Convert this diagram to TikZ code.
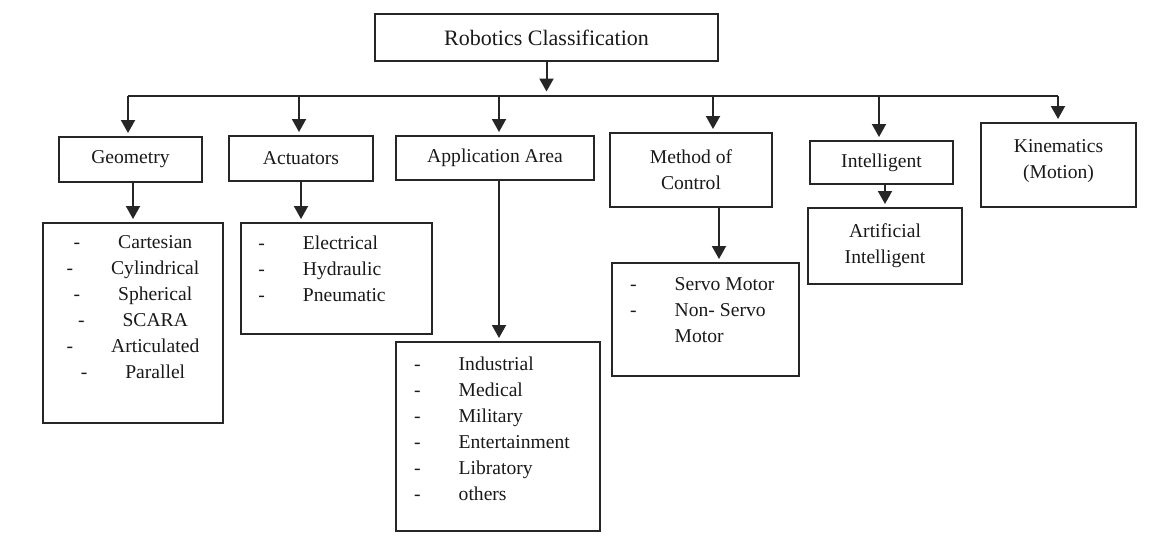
\documentclass[tikz,border=0pt]{standalone}
\usepackage{fontspec}
\setmainfont{Liberation Serif}
\usepackage{tikz}
\usetikzlibrary{arrows.meta}
\newcommand{\pxsize}{0.5pt}
\newcommand{\rcitem}[1]{-\hspace{19pt}#1}
\newcommand{\rcmore}[1]{\phantom{-}\hspace{19pt}#1}
\newcommand{\rcnode}[6]{\node[rcbox, minimum width=#4*\pxsize, minimum height=#5*\pxsize] (#1) at (#2,#3) {#6};}
\tikzset{
  rcbox/.style={draw=black!85, line width=1pt, inner sep=0pt, align=center, text=black!90, font=\fontsize{9.8}{13}\selectfont},
  rclist/.style={inner sep=0pt, text=black!90, font=\fontsize{9.8}{13}\selectfont},
  rcline/.style={draw=black!85, line width=1pt},
  rcarrow/.style={rcline, shorten >=1.5pt, -{Triangle[length=6.5pt,width=7pt]}}
}

\begin{document}
\begin{tikzpicture}[x=\pxsize, y=-\pxsize]

    \useasboundingbox (0,0) rectangle (1166,554);

    \rcnode{root}{546.5}{37.5}{343}{47}{\fontsize{11}{13}\selectfont Robotics Classification}

    \rcnode{geom}{130.5}{159.5}{143}{45}{Geometry}
    \rcnode{act}{301}{158.5}{144}{45}{Actuators}
    \rcnode{app}{495}{158}{198}{44}{Application Area}
    \rcnode{moc}{691}{170}{162}{74}{Method of\\Control}
    \rcnode{intel}{881.5}{162.5}{143}{43}{Intelligent}
    \rcnode{kin}{1058.5}{165}{155}{84}{}
    \node[rclist, align=center] (kin-text) at (1058.5,161.5) {Kinematics\\(Motion)};

    \rcnode{geomlist}{133}{323}{180}{200}{}
    \rcnode{actlist}{336.5}{278.5}{191}{111}{}
    \rcnode{applist}{498}{436.5}{204}{189}{}
    \rcnode{moclist}{705.5}{319.5}{187}{113}{}
    \rcnode{ai}{885}{246}{154}{76}{Artificial\\Intelligent}

    \node[rclist, align=center, anchor=north] (geomlist-text) at ([yshift=-6.5pt]geomlist.north)
        {\rcitem{Cartesian}\\\rcitem{Cylindrical}\\\rcitem{Spherical}\\\rcitem{SCARA}\\\rcitem{Articulated}\\\rcitem{Parallel}};
    \node[rclist, align=left, anchor=north west] (actlist-text) at ([xshift=9pt,yshift=-6.5pt]actlist.north west)
        {\rcitem{Electrical}\\\rcitem{Hydraulic}\\\rcitem{Pneumatic}};
    \node[rclist, align=left, anchor=north west] (applist-text) at ([xshift=9.4pt,yshift=-7.5pt]applist.north west)
        {\rcitem{Industrial}\\\rcitem{Medical}\\\rcitem{Military}\\\rcitem{Entertainment}\\\rcitem{Libratory}\\\rcitem{others}};
    \node[rclist, align=left, anchor=north west] (moclist-text) at ([xshift=9.4pt,yshift=-7.5pt]moclist.north west)
        {\rcitem{Servo Motor}\\\rcitem{Non- Servo}\\\rcmore{Motor}};

    \coordinate (bus-in) at (546.5,91.5);
    \coordinate (bus-w) at (128,96);
    \coordinate (bus-e) at (1058,96);
    \draw[rcarrow, shorten >=0pt] (root) -- (bus-in);
    \draw[rcline] (bus-w) -- (bus-e);

    \foreach \n/\x in {geom/128, act/299, app/499, moc/713, intel/879, kin/1058}
    {
        \coordinate (bus-\n) at (\x,96);
        \draw[rcarrow] (bus-\n) -- (bus-\n |- \n.north);
    }

    \draw[rcarrow] (geom.south -| geomlist.north) -- (geomlist.north);
    \draw[rcarrow] (act.south) -- (act.south |- actlist.north);
    \draw[rcarrow] (bus-app |- app.south) -- (bus-app |- applist.north);
    \draw[rcarrow] ([xshift=14pt]moc.south) -- ([xshift=14pt]moc.south |- moclist.north);
    \draw[rcarrow] (ai.north |- intel.south) -- (ai.north);

\end{tikzpicture}
\end{document}
